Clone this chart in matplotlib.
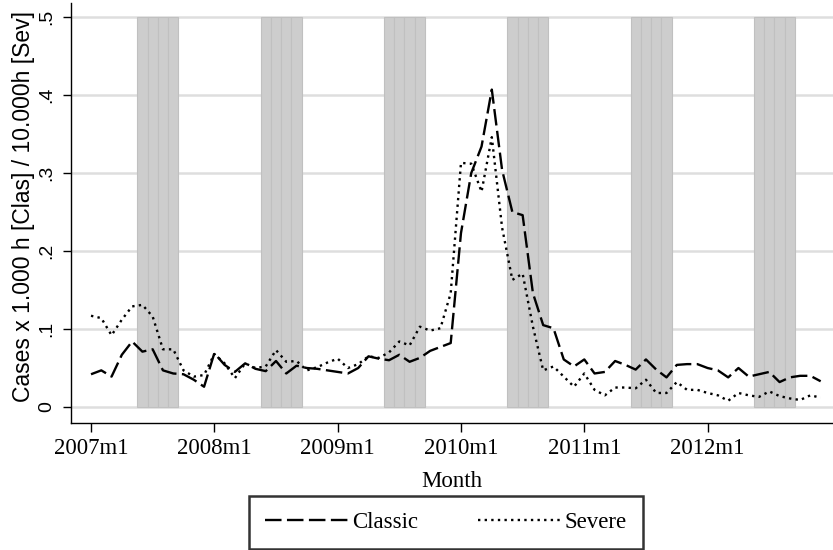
import matplotlib.pyplot as plt
import numpy as np

# -----------------------------
# 1. Data (monthly rates, 2007m1 - 2012m12)
# -----------------------------
years = [2007, 2008, 2009, 2010, 2011, 2012]
shade_months = [6, 7, 8, 9]  # June - September shaded every year

classic = [
    0.042, 0.047, 0.039, 0.067, 0.084, 0.071, 0.074, 0.047, 0.043, 0.042, 0.035, 0.026,
    0.069, 0.054, 0.045, 0.056, 0.049, 0.046, 0.059, 0.043, 0.053, 0.050, 0.049, 0.047,
    0.045, 0.043, 0.050, 0.065, 0.062, 0.060, 0.067, 0.058, 0.063, 0.072, 0.077, 0.082,
    0.223, 0.300, 0.334, 0.407, 0.304, 0.250, 0.246, 0.146, 0.105, 0.101, 0.061, 0.052,
    0.061, 0.043, 0.045, 0.059, 0.054, 0.048, 0.061, 0.048, 0.038, 0.054, 0.055, 0.055,
    0.050, 0.047, 0.038, 0.050, 0.039, 0.042, 0.045, 0.032, 0.038, 0.040, 0.040, 0.033,
]

severe = [
    0.117, 0.114, 0.092, 0.112, 0.129, 0.131, 0.116, 0.074, 0.074, 0.047, 0.039, 0.041,
    0.068, 0.056, 0.037, 0.056, 0.050, 0.052, 0.073, 0.058, 0.059, 0.047, 0.051, 0.057,
    0.062, 0.050, 0.055, 0.065, 0.063, 0.070, 0.084, 0.079, 0.103, 0.098, 0.101, 0.146,
    0.313, 0.312, 0.276, 0.346, 0.230, 0.163, 0.171, 0.103, 0.047, 0.052, 0.039, 0.026,
    0.043, 0.022, 0.015, 0.025, 0.025, 0.024, 0.035, 0.018, 0.018, 0.032, 0.022, 0.022,
    0.018, 0.015, 0.008, 0.018, 0.015, 0.013, 0.020, 0.014, 0.011, 0.009, 0.015, 0.012,
]

y_ticks = [0, 0.1, 0.2, 0.3, 0.4, 0.5]
y_tick_labels = ["0", ".1", ".2", ".3", ".4", ".5"]
x_tick_labels = [f"{y}m1" for y in years]

months = np.arange(len(classic))
shade_idx = [(y - years[0]) * 12 + m - 1 for y in years for m in shade_months]

# -----------------------------
# 2. Plot
# -----------------------------
sans = ["Liberation Sans", "DejaVu Sans"]
serif = ["Liberation Serif", "DejaVu Serif"]

fig = plt.figure(figsize=(8.33, 5.5), dpi=100)
ax = fig.add_axes([0.0852, 0.2309, 0.9148, 0.7636])

# horizontal grid
for yt in y_ticks:
    ax.axhline(yt, color="#dedede", lw=1.8, zorder=0)

# shaded summer months
ax.bar(shade_idx, [0.5] * len(shade_idx), width=1.0, bottom=0,
       color="#cdcdcd", edgecolor="#c0c0c0", linewidth=0.8, zorder=1)

ax.plot(months, classic, color="black", lw=1.7, dashes=(7, 2.3),
        label="Classic", zorder=3)
ax.plot(months, severe, color="black", lw=1.7, dashes=(1, 1.8),
        label="Severe", zorder=3)

ax.set_xlim(-1.95, 72.2)
ax.set_ylim(-0.0205, 0.518)

ax.spines["top"].set_visible(False)
ax.spines["right"].set_visible(False)
ax.spines["left"].set_linewidth(1.0)
ax.spines["bottom"].set_linewidth(1.0)

ax.set_yticks(y_ticks)
ax.set_yticklabels(y_tick_labels, rotation=90, va="center", family=sans, fontsize=14)
ax.tick_params(axis="y", length=6, width=1, pad=5)

ax.set_xticks(months[::12])
ax.set_xticklabels(x_tick_labels, family=serif, fontsize=16.5)
ax.tick_params(axis="x", length=6.5, width=1, pad=4)

ax.set_ylabel("Cases x 1.000 h [Clas] / 10.000h [Sev]", family=sans, fontsize=16.5)
ax.yaxis.set_label_coords(-0.047, 0.515)
ax.set_xlabel("Month", family=serif, fontsize=16.5, labelpad=9)

leg = fig.legend(loc="center", bbox_to_anchor=(0.5354, 0.05), ncol=2,
                 prop={"family": serif, "size": 16.5}, frameon=True, fancybox=False,
                 handlelength=3.7, handletextpad=0.1, columnspacing=2.6,
                 borderpad=0.7, borderaxespad=0)
leg.get_frame().set_edgecolor("black")
leg.get_frame().set_linewidth(1.8)

fig.savefig("out.png", dpi=100)
